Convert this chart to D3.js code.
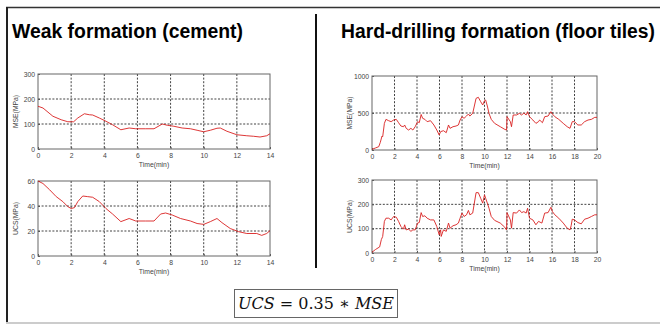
<!DOCTYPE html>
<html>
<head>
<meta charset="utf-8">
<script src="https://cdn.jsdelivr.net/npm/d3@7"></script>
<style>
  body { margin: 0; background: #fff; }
  svg { display: block; font-family: "Liberation Sans", Arial, sans-serif; }
  .tick text { fill: #444; }
</style>
</head>
<body>
<div id="chart"></div>
<script>
// Data
const weakTicksX = [0, 2, 4, 6, 8, 10, 12, 14];
const hardTicksX = [0, 2, 4, 6, 8, 10, 12, 14, 16, 18, 20];

const weakMse = [
  [0, 171], [0.3, 164], [0.9, 131], [1.4, 117], [1.8, 109], [2.15, 109], [2.4, 124], [2.8, 141],
  [3.1, 137], [3.3, 136], [3.7, 124], [4.1, 111], [4.5, 97], [5.0, 77], [5.5, 84], [5.9, 81],
  [6.5, 81], [7.0, 81], [7.5, 100], [7.8, 95], [8.2, 91], [8.7, 84], [9.2, 81], [9.6, 75],
  [10.0, 69], [10.4, 75], [10.8, 83], [11.0, 84], [11.4, 71], [12.0, 57], [12.6, 53], [13.0, 51],
  [13.4, 48], [13.8, 53], [14, 61]
];

const weakUcs = [
  [0, 60], [0.3, 58], [0.7, 53], [1.1, 47.5], [1.5, 43.5], [1.8, 39.5], [2.0, 38], [2.2, 38.7],
  [2.4, 43.5], [2.7, 48], [3.0, 47.5], [3.3, 47], [3.7, 43.5], [4.1, 38], [4.5, 33.6], [5.0, 27.5],
  [5.5, 30], [5.9, 28], [6.5, 28], [7.0, 28], [7.4, 33.6], [7.7, 34.4], [8.1, 32.8], [8.6, 30],
  [9.2, 28], [9.6, 26], [10.0, 25.3], [10.4, 27.5], [10.8, 30], [11.1, 26.7], [11.6, 22], [12.1, 19.5],
  [12.6, 18], [13.2, 18], [13.5, 16.5], [13.8, 18], [14, 20.3]
];

const hardMse = [
  [0, 9], [0.3, 27], [0.6, 45], [0.74, 104], [0.89, 189], [0.95, 180], [1.1, 360], [1.24, 414],
  [1.48, 396], [1.7, 383], [1.92, 405], [2.16, 414], [2.36, 369], [2.57, 324], [2.8, 315], [2.9, 338],
  [3.04, 293], [3.25, 270], [3.46, 293], [3.63, 270], [3.84, 315], [4.05, 383], [4.2, 369], [4.37, 480],
  [4.5, 428], [4.7, 414], [4.9, 383], [5.2, 396], [5.5, 338], [5.76, 270], [5.97, 203], [6.1, 248],
  [6.35, 261], [6.6, 234], [6.8, 338], [6.94, 293], [7.2, 315], [7.47, 324], [7.68, 338], [7.83, 405],
  [8.0, 450], [8.18, 428], [8.4, 459], [8.57, 486], [8.7, 459], [8.95, 495], [9.25, 698], [9.45, 712],
  [9.66, 653], [9.84, 608], [10.0, 667], [10.1, 676], [10.25, 595], [10.4, 495], [10.6, 414], [10.9, 360],
  [11.4, 315], [11.8, 279], [11.96, 270], [12.0, 450], [12.3, 383], [12.4, 315], [12.55, 473], [12.85, 473],
  [13.1, 495], [13.3, 473], [13.5, 500], [13.7, 473], [13.83, 518], [14.0, 450], [14.3, 405], [14.57, 360],
  [14.8, 383], [14.9, 405], [15.15, 369], [15.35, 450], [15.65, 459], [15.9, 518], [16.04, 486], [16.25, 450],
  [16.6, 414], [17.0, 360], [17.35, 315], [17.6, 293], [17.7, 338], [17.8, 383], [18.0, 383], [18.3, 338],
  [18.6, 338], [18.9, 383], [19.2, 405], [19.5, 414], [19.8, 441], [20, 441]
];

const hardUcs = [
  [0, 3], [0.3, 14], [0.68, 25], [0.83, 55], [0.95, 68], [1.1, 130], [1.24, 143], [1.48, 143],
  [1.7, 136], [1.92, 150], [2.16, 147], [2.36, 130], [2.57, 109], [2.8, 98], [2.9, 116], [3.04, 95],
  [3.25, 98], [3.46, 89], [3.63, 95], [3.84, 95], [4.05, 123], [4.2, 125], [4.37, 166], [4.5, 150],
  [4.7, 153], [4.9, 143], [5.2, 136], [5.5, 136], [5.76, 109], [5.97, 75], [6.1, 95], [6.15, 68],
  [6.35, 95], [6.6, 89], [6.8, 123], [6.94, 102], [7.2, 112], [7.47, 116], [7.68, 123], [7.83, 143],
  [8.0, 164], [8.18, 150], [8.4, 157], [8.57, 175], [8.7, 157], [8.95, 164], [9.25, 248], [9.45, 248],
  [9.66, 225], [9.84, 205], [10.0, 239], [10.1, 225], [10.25, 205], [10.4, 184], [10.6, 150], [10.9, 134],
  [11.4, 123], [11.8, 106], [11.96, 95], [12.0, 166], [12.3, 136], [12.4, 102], [12.55, 166], [12.85, 164],
  [13.1, 177], [13.3, 166], [13.5, 170], [13.7, 164], [13.83, 184], [14.0, 143], [14.3, 136], [14.57, 116],
  [14.8, 130], [15.1, 123], [15.35, 164], [15.65, 166], [15.9, 188], [16.04, 170], [16.25, 157], [16.6, 143],
  [17.0, 123], [17.35, 102], [17.6, 95], [17.7, 112], [17.8, 139], [18.0, 136], [18.3, 125], [18.6, 120],
  [18.9, 139], [19.2, 143], [19.5, 150], [19.8, 157], [20, 157]
];

const panels = [
  { data: weakMse, xMax: 14, xTicks: weakTicksX, yTicks: [0, 100, 200, 300], label: "MSE(MPa)", box: [38, 74, 270, 149] },
  { data: weakUcs, xMax: 14, xTicks: weakTicksX, yTicks: [0, 20, 40, 60], label: "UCS(MPa)", box: [38, 181, 270, 256] },
  { data: hardMse, xMax: 20, xTicks: hardTicksX, yTicks: [0, 500, 1000], label: "MSE(MPa)", box: [372, 76, 597, 150] },
  { data: hardUcs, xMax: 20, xTicks: hardTicksX, yTicks: [0, 100, 200, 300], label: "UCS(MPa)", box: [372, 180, 597, 253] }
];

const width = 660, height = 325;

const svg = d3.select("#chart").append("svg")
  .attr("width", width)
  .attr("height", height);

// Frame
svg.append("line").attr("x1", 6).attr("x2", 660).attr("y1", 7.5).attr("y2", 7.5)
  .attr("stroke", "#333").attr("stroke-width", 1.3);
svg.append("line").attr("x1", 7).attr("x2", 7).attr("y1", 7).attr("y2", 323)
  .attr("stroke", "#222").attr("stroke-width", 2);
svg.append("line").attr("x1", 6).attr("x2", 660).attr("y1", 323).attr("y2", 323)
  .attr("stroke", "#ccc").attr("stroke-width", 2);
svg.append("line").attr("x1", 316).attr("x2", 316).attr("y1", 14).attr("y2", 268)
  .attr("stroke", "#111").attr("stroke-width", 2);

// Titles
svg.append("text").attr("x", 12).attr("y", 38)
  .style("font-size", "19.5px").style("font-weight", "bold").attr("fill", "#000")
  .attr("textLength", 231).attr("lengthAdjust", "spacingAndGlyphs")
  .text("Weak formation (cement)");
svg.append("text").attr("x", 341).attr("y", 38)
  .style("font-size", "19.5px").style("font-weight", "bold").attr("fill", "#000")
  .attr("textLength", 314).attr("lengthAdjust", "spacingAndGlyphs")
  .text("Hard-drilling formation (floor tiles)");

// Panels
panels.forEach((p) => {
  const [x0, y0, x1, y1] = p.box;
  const yMax = p.yTicks[p.yTicks.length - 1];
  const xScale = d3.scaleLinear().domain([0, p.xMax]).range([x0, x1]);
  const yScale = d3.scaleLinear().domain([0, yMax]).range([y1, y0]);
  const g = svg.append("g");

  // grid
  g.append("g").selectAll("line")
    .data(p.xTicks.slice(1, -1))
    .join("line")
    .attr("x1", (d) => xScale(d)).attr("x2", (d) => xScale(d))
    .attr("y1", y0).attr("y2", y1)
    .attr("stroke", "#111").attr("stroke-width", 0.8).attr("stroke-dasharray", "2,1.6");
  g.append("g").selectAll("line")
    .data(p.yTicks.slice(1, -1))
    .join("line")
    .attr("y1", (d) => yScale(d)).attr("y2", (d) => yScale(d))
    .attr("x1", x0).attr("x2", x1)
    .attr("stroke", "#111").attr("stroke-width", 0.8).attr("stroke-dasharray", "2,1.6");

  // axes
  const xAxis = d3.axisBottom(xScale).tickValues(p.xTicks).tickFormat(d3.format("d"))
    .tickSize(-2).tickPadding(4).tickSizeOuter(0);
  const yAxis = d3.axisLeft(yScale).tickValues(p.yTicks).tickFormat(d3.format("d"))
    .tickSize(-2).tickPadding(3).tickSizeOuter(0);
  const gx = g.append("g").attr("transform", `translate(0, ${y1})`).call(xAxis);
  const gy = g.append("g").attr("transform", `translate(${x0}, 0)`).call(yAxis);
  [gx, gy].forEach((a) => {
    a.select(".domain").remove();
    a.selectAll(".tick line").attr("stroke", "#555");
    a.selectAll(".tick text").style("font-size", "6.8px").attr("fill", "#444");
  });

  // box
  g.append("rect").attr("x", x0).attr("y", y0).attr("width", x1 - x0).attr("height", y1 - y0)
    .attr("fill", "none").attr("stroke", "#666").attr("stroke-width", 1);

  // line
  const line = d3.line().x((d) => xScale(d[0])).y((d) => yScale(d[1]));
  g.append("path").datum(p.data).attr("d", line)
    .attr("fill", "none").attr("stroke", "#d92020").attr("stroke-width", 0.9);

  // labels
  g.append("text").attr("x", (x0 + x1) / 2).attr("y", y1 + 18)
    .attr("text-anchor", "middle").style("font-size", "6.8px").attr("fill", "#444")
    .text("Time(min)");
  g.append("text")
    .attr("transform", `translate(${x0 - 20}, ${(y0 + y1) / 2}) rotate(-90)`)
    .attr("text-anchor", "middle").style("font-size", "6.8px").attr("fill", "#444")
    .text(p.label);
});

// Equation
svg.append("rect").attr("x", 234.5).attr("y", 289.5).attr("width", 163).attr("height", 28)
  .attr("fill", "#fff").attr("stroke", "#666").attr("stroke-width", 1);
const eq = svg.append("text").attr("x", 316).attr("y", 309).attr("text-anchor", "middle")
  .style("font-family", "'DejaVu Serif', 'Liberation Serif', serif").style("font-size", "16px").attr("fill", "#111");
eq.append("tspan").style("font-style", "italic").text("UCS");
eq.append("tspan").text(" = 0.35  ∗ ");
eq.append("tspan").style("font-style", "italic").text("MSE");
</script>
</body>
</html>
